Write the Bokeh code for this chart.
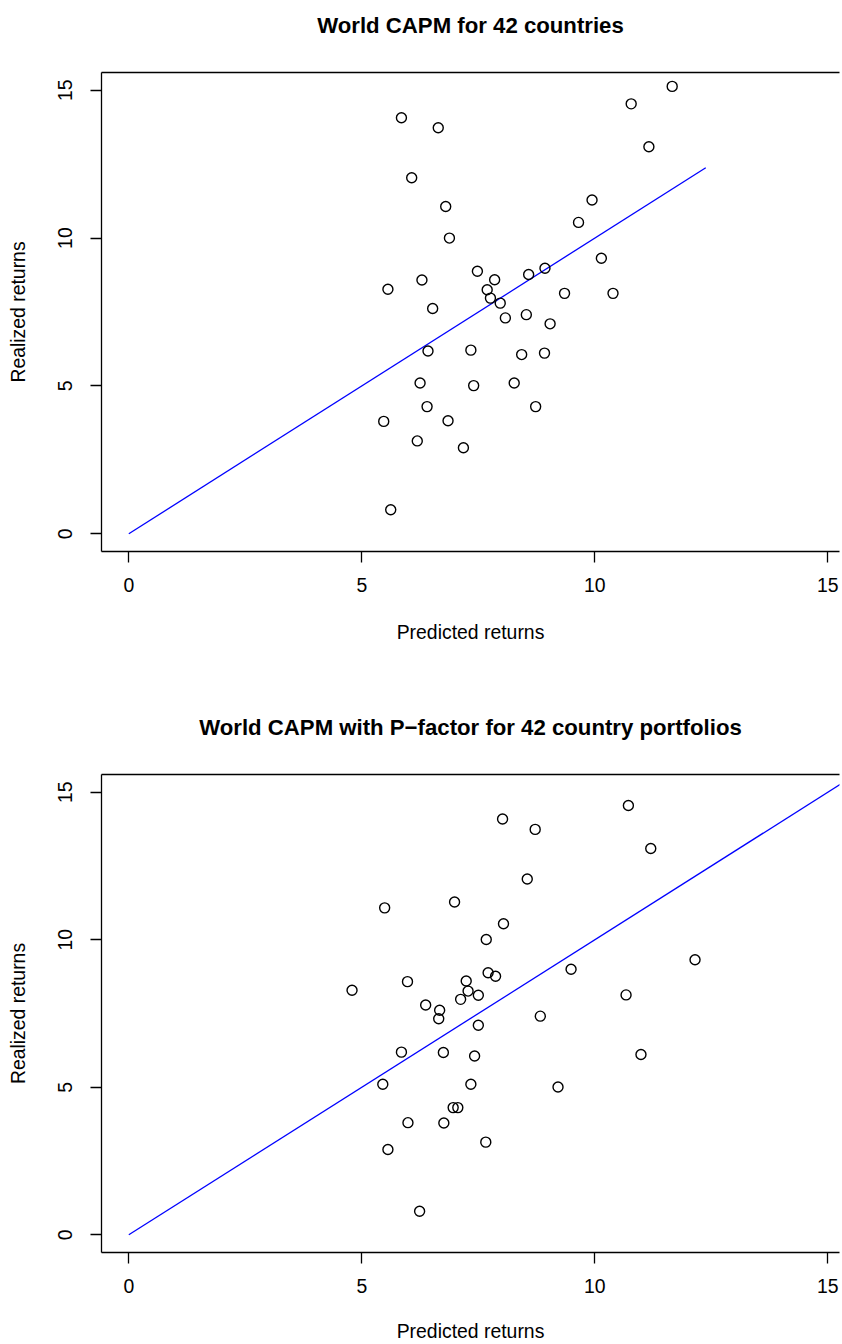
from bokeh.plotting import figure
from bokeh.layouts import column
from bokeh.models import FixedTicker, LinearAxis, Range1d
from bokeh.embed import file_html
from bokeh.resources import INLINE

# ---- data: panel 1 (World CAPM) ----
pred1 = [5.85, 6.64, 6.07, 6.80, 6.88, 6.29, 5.56, 6.52, 11.66, 10.78,
         11.16, 9.94, 9.65, 10.14, 7.48, 7.85, 8.58, 8.93, 7.69, 7.76,
         7.97, 9.35, 10.39, 8.08, 8.53, 9.04, 7.34, 8.43, 8.92, 7.40,
         8.27, 8.73, 6.85, 7.18, 6.42, 6.25, 6.40, 5.47, 6.19, 5.62]
real1 = [14.07, 13.73, 12.04, 11.07, 10.00, 8.58, 8.27, 7.62, 15.13, 14.54,
         13.09, 11.29, 10.53, 9.32, 8.88, 8.59, 8.77, 8.98, 8.25, 7.97,
         7.80, 8.13, 8.13, 7.30, 7.41, 7.10, 6.21, 6.06, 6.11, 5.01,
         5.10, 4.30, 3.82, 2.91, 6.18, 5.10, 4.30, 3.80, 3.14, 0.81]

# ---- data: panel 2 (World CAPM with P-factor) ----
pred2 = [5.49, 6.99, 4.79, 5.98, 7.24, 7.28, 7.12, 6.37, 6.67, 6.65,
         8.02, 8.72, 10.72, 11.20, 8.55, 8.04, 7.67, 12.15, 9.49, 7.71,
         7.87, 7.50, 10.67, 8.83, 7.50, 6.75, 7.42, 10.99, 7.34, 9.21,
         6.96, 7.06, 6.76, 7.66, 5.85, 5.45, 5.99, 5.56, 6.24]
real2 = [11.08, 11.28, 8.29, 8.58, 8.60, 8.26, 7.98, 7.79, 7.61, 7.32,
         14.09, 13.74, 14.55, 13.09, 12.06, 10.54, 10.01, 9.32, 9.00, 8.88,
         8.76, 8.12, 8.13, 7.41, 7.10, 6.18, 6.06, 6.11, 5.10, 5.01,
         4.31, 4.31, 3.79, 3.14, 6.19, 5.10, 3.80, 2.89, 0.80]

# 45-degree reference lines (start, end)
line1 = [0, 12.38]
line2 = [0, 16.5]

ticks = [0, 5, 10, 15]
titles = ["World CAPM for 42 countries",
          "World CAPM with P\u2212factor for 42 country portfolios"]
xlabel = "Predicted returns"
ylabel = "Realized returns"

FONT = "Liberation Sans"
FS = "19.4px"


def make_panel(px, ry, ln, title, height, border_top, border_bottom, xlab_standoff):
    p = figure(width=842, height=height, output_backend="svg",
               toolbar_location=None, x_axis_type=None, y_axis_type=None,
               x_range=Range1d(-0.586, 15.25), y_range=Range1d(-0.6, 15.6),
               min_border_left=101, min_border_right=3,
               min_border_top=border_top, min_border_bottom=border_bottom)
    p.outline_line_color = None
    p.background_fill_color = "white"
    p.border_fill_color = "white"
    p.xgrid.visible = False
    p.ygrid.visible = False

    # top border of the box, carrying the main title as its label
    top = LinearAxis(ticker=FixedTicker(ticks=[]),
                     major_label_text_font_size="0px", axis_label=title)
    top.axis_line_width = 1.3
    top.axis_line_color = "black"
    top.minor_tick_line_color = None
    top.major_tick_line_color = None
    top.major_tick_out = 0
    top.major_tick_in = 0
    top.major_label_standoff = 0
    top.axis_label_text_font = FONT
    top.axis_label_text_font_size = "22.2px"
    top.axis_label_text_font_style = "bold"
    top.axis_label_text_color = "black"
    top.axis_label_standoff = 35
    p.add_layout(top, "above")

    xa = LinearAxis(ticker=FixedTicker(ticks=ticks), axis_label=xlabel)
    ya = LinearAxis(ticker=FixedTicker(ticks=ticks), axis_label=ylabel)
    for a in (xa, ya):
        a.minor_tick_line_color = None
        a.major_tick_out = 11
        a.major_tick_in = 0
        a.axis_line_width = 1.3
        a.major_tick_line_width = 1.3
        a.axis_line_color = "black"
        a.major_tick_line_color = "black"
        a.major_label_text_font = FONT
        a.major_label_text_font_size = FS
        a.major_label_text_color = "black"
        a.axis_label_text_font = FONT
        a.axis_label_text_font_size = FS
        a.axis_label_text_font_style = "normal"
        a.axis_label_text_color = "black"
    xa.major_label_standoff = 15
    xa.axis_label_standoff = xlab_standoff
    ya.major_label_orientation = "vertical"
    ya.major_label_standoff = 18
    ya.axis_label_standoff = 27
    p.add_layout(xa, "below")
    p.add_layout(ya, "left")

    p.line(ln, ln, line_color="blue", line_width=1.3)
    p.scatter(px, ry, marker="circle", size=10, fill_color=None,
              line_color="black", line_width=1.4)
    return p


p1 = make_panel(pred1, real1, line1, titles[0], 710, 72, 159, 26)
p2 = make_panel(pred2, real2, line2, titles[1], 634, 64, 91, 24)

layout = column(p1, p2, spacing=0)
open("out.html", "w").write(file_html(layout, INLINE))
